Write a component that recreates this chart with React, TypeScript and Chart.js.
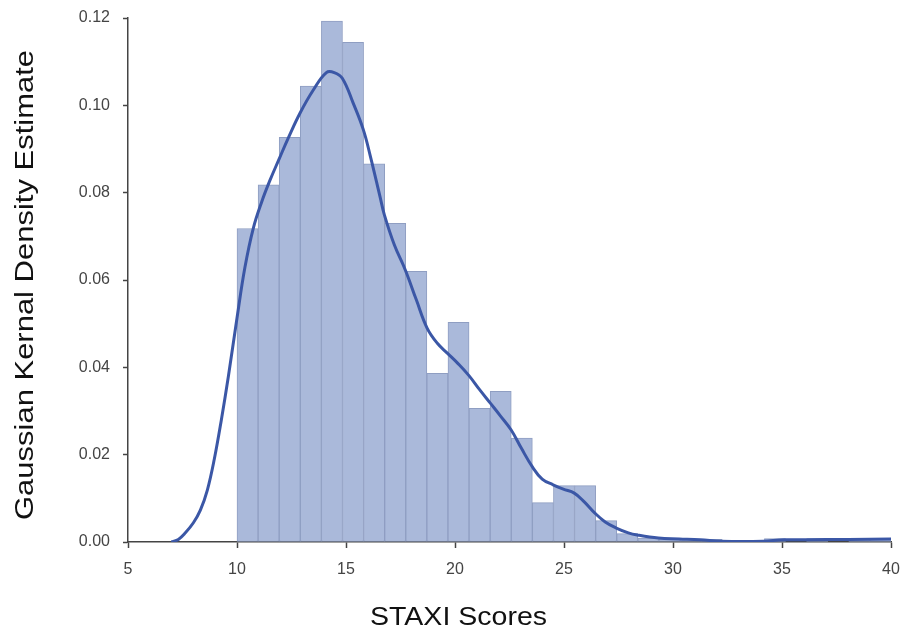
import React, { useEffect, useRef } from "react";
import { Chart, registerables } from "chart.js";

Chart.register(...registerables);

// Histogram: 31 equal bins spanning 10..40
const binStart = 10;
const binEnd = 40;
const binDensity = [
  0.0718, 0.0818, 0.0927, 0.1044, 0.1193, 0.1144, 0.0866, 0.073, 0.062, 0.0386,
  0.0503, 0.0306, 0.0345, 0.0238, 0.009, 0.0129, 0.0129, 0.0049, 0.0019, 0.0009,
  0.0007, 0.0006, 0.0006, 0, 0, 0.0008, 0, 0.0008, 0, 0.0008, 0.0008,
];

// Gaussian KDE curve samples
const kdeX = [
  6.99, 7.31, 7.63, 8.0, 8.32, 8.64, 8.96, 9.28, 9.6, 10.0, 10.36, 10.75, 11.14,
  11.51, 11.94, 12.35, 12.9, 13.5, 14.1, 14.46, 14.83, 15.33, 15.79, 16.11, 16.56,
  16.76, 17.22, 17.72, 18.23, 18.72, 19.19, 19.66, 20.15, 20.64, 21.11, 21.62,
  22.08, 22.57, 23.04, 23.55, 24.0, 24.5, 24.97, 25.47, 25.93, 26.42, 26.89, 27.4,
  27.95, 28.36, 29.33, 30.29, 31.25, 32.21, 33.18, 34.14, 35.1, 36.11, 38.04, 40.0,
];
const kdeY = [
  0.0, 0.0006, 0.0021, 0.0044, 0.0073, 0.0119, 0.019, 0.0279, 0.0378, 0.0513,
  0.0628, 0.0719, 0.078, 0.0828, 0.0878, 0.0925, 0.0983, 0.1035, 0.1075, 0.1075,
  0.1062, 0.1005, 0.0945, 0.0885, 0.0791, 0.0749, 0.068, 0.0623, 0.0554, 0.049,
  0.0455, 0.0432, 0.0408, 0.0381, 0.035, 0.0318, 0.0289, 0.0257, 0.0215, 0.0172,
  0.0144, 0.0131, 0.0121, 0.0112, 0.0092, 0.0066, 0.0046, 0.0032, 0.0021, 0.0016,
  0.0009, 0.0007, 0.0005, 0.0002, 0.0001, 0.0002, 0.0005, 0.0005, 0.0006, 0.0007,
];

const xTicks = [5, 10, 15, 20, 25, 30, 35, 40];
const yTicks = [0, 0.02, 0.04, 0.06, 0.08, 0.1, 0.12];
const xTitle = "STAXI Scores";
const yTitle = "Gaussian Kernal Density Estimate";

const FONT = "'Liberation Sans', Arial, Helvetica, sans-serif";

export default function App() {
  const ref = useRef<HTMLCanvasElement>(null);

  useEffect(() => {
    document.body.style.margin = "0";
    document.body.style.overflow = "hidden";
    const binWidth = (binEnd - binStart) / binDensity.length;
    const barData = binDensity.map((v, i) => ({ x: binStart + (i + 0.5) * binWidth, y: v }));
    const lineData = kdeX.map((x, i) => ({ x, y: kdeY[i] }));

    const titlePlugin = {
      id: "customTitles",
      afterDraw(chart: any) {
        const ctx = chart.ctx as CanvasRenderingContext2D;
        ctx.save();
        ctx.fillStyle = "#111";
        ctx.font = `25px ${FONT}`;
        ctx.textBaseline = "alphabetic";
        ctx.textAlign = "center";
        const wx = ctx.measureText(xTitle).width;
        ctx.save();
        ctx.translate(458.5, 625);
        ctx.scale(177 / wx, 1);
        ctx.fillText(xTitle, 0, 0);
        ctx.restore();
        const wy = ctx.measureText(yTitle).width;
        ctx.save();
        ctx.translate(33, 285);
        ctx.rotate(-Math.PI / 2);
        ctx.scale(470 / wy, 1);
        ctx.fillText(yTitle, 0, 0);
        ctx.restore();
        ctx.restore();
      },
    };

    const chart = new Chart(ref.current as HTMLCanvasElement, {
      type: "bar",
      data: {
        datasets: [
          {
            type: "line",
            data: lineData,
            borderColor: "#3b57a6",
            borderWidth: 3,
            pointRadius: 0,
            tension: 0.4,
            fill: false,
            order: 0,
          } as any,
          {
            type: "bar",
            data: barData,
            backgroundColor: "#aab9da",
            borderColor: "#8f9ec2",
            borderWidth: 1,
            borderSkipped: false,
            categoryPercentage: 1,
            barPercentage: 1,
            order: 1,
          } as any,
        ],
      },
      options: {
        animation: false,
        responsive: false,
        layout: { padding: { top: 18, right: 12, bottom: 0, left: 0 } },
        plugins: { legend: { display: false }, tooltip: { enabled: false } },
        scales: {
          x: {
            type: "linear",
            min: 5,
            max: 40,
            offset: false,
            afterBuildTicks: (s: any) => {
              s.ticks = xTicks.map((v) => ({ value: v }));
            },
            afterFit: (s: any) => {
              s.height = 91;
              s.paddingLeft = 0;
              s.paddingRight = 0;
            },
            grid: {
              display: true,
              drawOnChartArea: false,
              drawTicks: true,
              tickLength: 6,
              tickColor: "#444",
              tickWidth: 1.5,
              offset: false,
            },
            border: { display: true, color: "#444", width: 1.5 },
            ticks: {
              color: "#444",
              font: { family: FONT, size: 16 },
              padding: 12,
              maxRotation: 0,
              callback: (v: any) => String(v),
            },
          },
          y: {
            type: "linear",
            min: 0,
            max: 0.12,
            afterBuildTicks: (s: any) => {
              s.ticks = yTicks.map((v) => ({ value: v }));
            },
            afterFit: (s: any) => {
              s.width = 128;
              s.paddingTop = 0;
              s.paddingBottom = 0;
            },
            grid: {
              display: true,
              drawOnChartArea: false,
              drawTicks: true,
              tickLength: 5,
              tickColor: "#444",
              tickWidth: 1.5,
            },
            border: { display: true, color: "#444", width: 1.5 },
            ticks: {
              color: "#444",
              font: { family: FONT, size: 16 },
              padding: 13,
              callback: (v: any) => Number(v).toFixed(2),
            },
          },
        },
      },
      plugins: [titlePlugin],
    });
    return () => chart.destroy();
  }, []);

  return <canvas ref={ref} width={903} height={633} style={{ display: "block" }} />;
}
